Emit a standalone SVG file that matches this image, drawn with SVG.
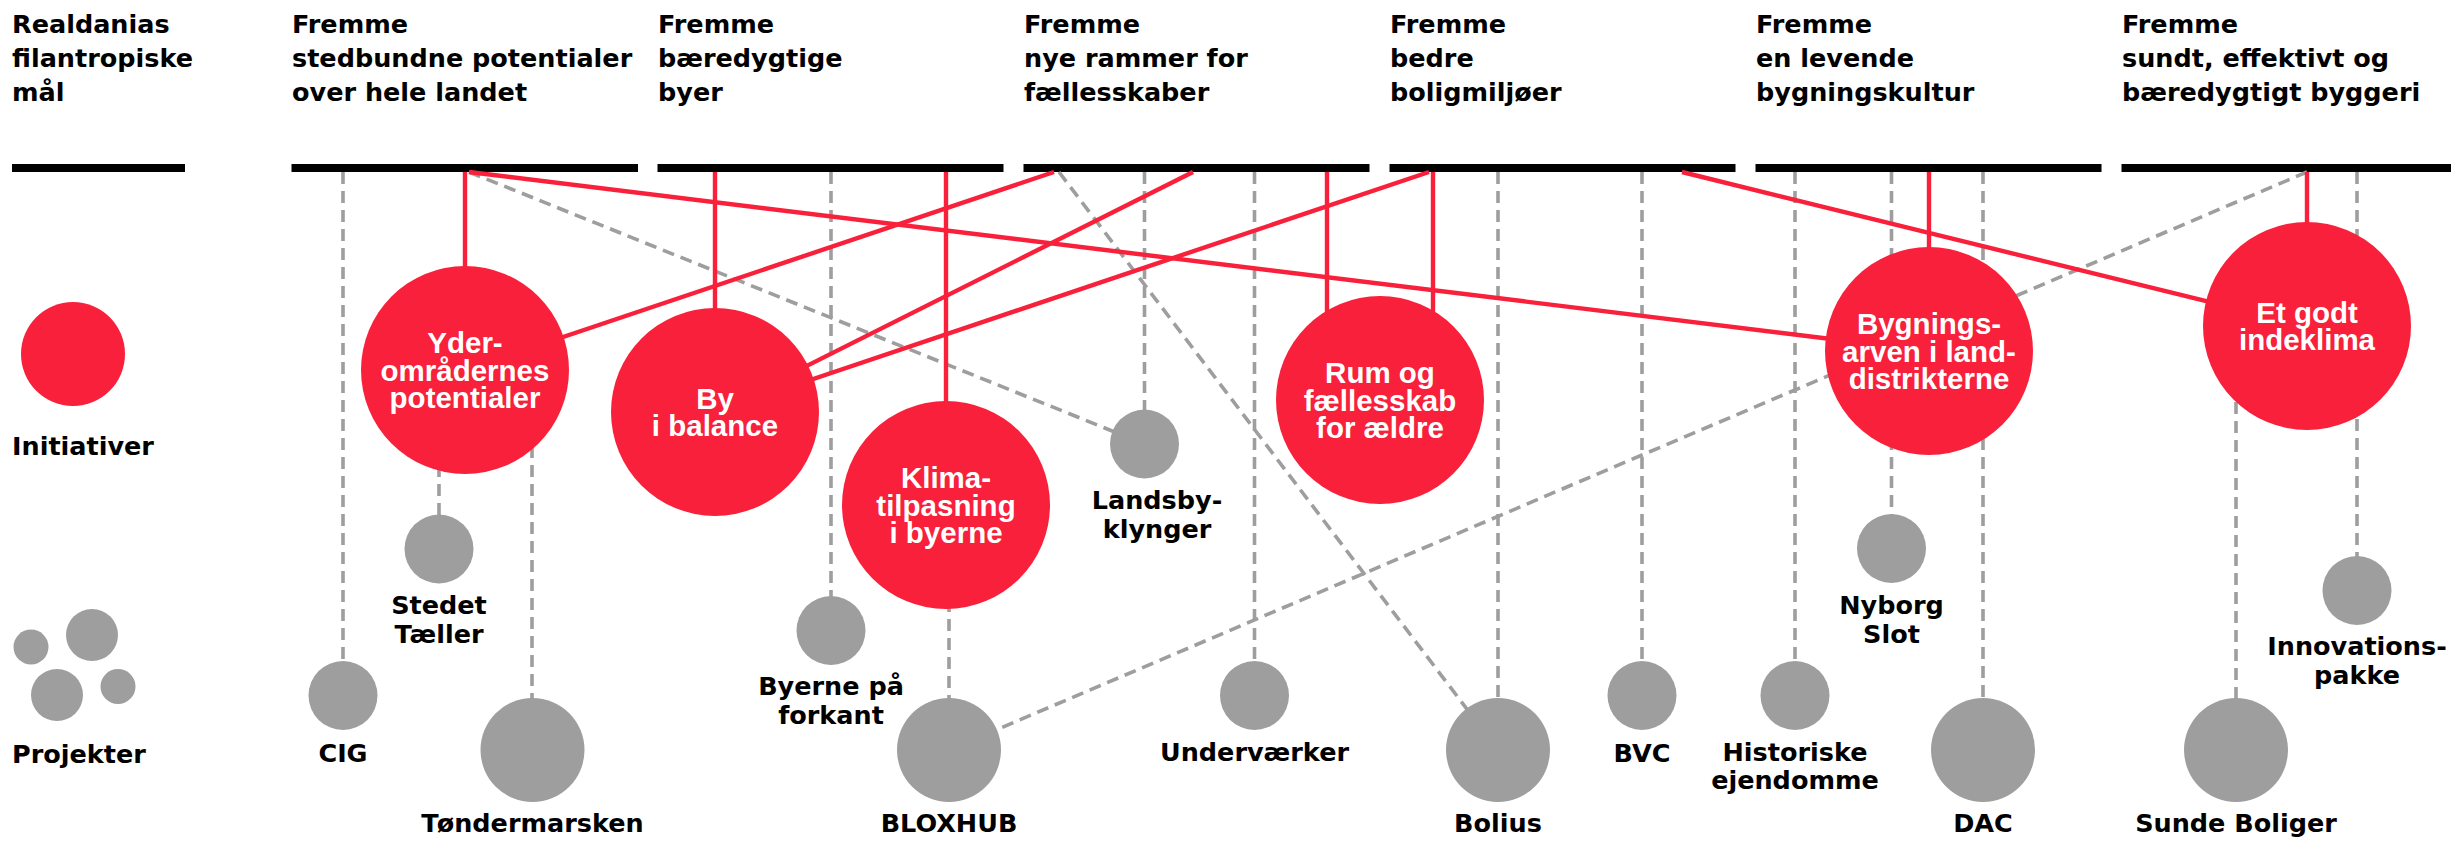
<svg xmlns="http://www.w3.org/2000/svg" width="2451" height="843" viewBox="0 0 2451 843">
<style>
.t{font-family:"DejaVu Sans","Liberation Sans",sans-serif;font-weight:bold;font-size:25.5px;fill:#000}
.m{text-anchor:middle}
.w{font-family:"Liberation Sans","DejaVu Sans",sans-serif;font-weight:bold;font-size:29.5px;fill:#fff;text-anchor:middle}
.bar{fill:#000}
.red{stroke:#F8203A;stroke-width:4.4;fill:none}
.dash{stroke:#9e9e9e;stroke-width:3.6;stroke-dasharray:12 7;fill:none}
.ic{fill:#F8203A}
.pc{fill:#9e9e9e}
</style>
<rect width="2451" height="843" fill="#fff"/>

<g id="legend">
  <g id="legend-goals">
    <rect class="bar" x="12" y="164" width="173" height="8"/>
    <text class="t" x="12"><tspan x="12" y="32.5">Realdanias</tspan><tspan x="12" y="66.5">filantropiske</tspan><tspan x="12" y="100.5">mål</tspan></text>
  </g>
  <g id="legend-initiatives">
    <circle class="ic" cx="73" cy="354" r="52"/>
    <text class="t" x="12" y="455">Initiativer</text>
  </g>
  <g id="legend-projects">
    <circle class="pc" cx="31" cy="647" r="17.5"/>
    <circle class="pc" cx="92" cy="635" r="26"/>
    <circle class="pc" cx="57" cy="695" r="26"/>
    <circle class="pc" cx="118" cy="686.5" r="17.5"/>
    <text class="t" x="12" y="763">Projekter</text>
  </g>
</g>

<g id="goal-1">
  <rect class="bar" x="291.5" y="164" width="346.5" height="8"/>
  <text class="t"><tspan x="292" y="32.5">Fremme</tspan><tspan x="292" y="66.5">stedbundne potentialer</tspan><tspan x="292" y="100.5">over hele landet</tspan></text>
</g>
<g id="goal-2">
  <rect class="bar" x="657.5" y="164" width="346" height="8"/>
  <text class="t"><tspan x="658" y="32.5">Fremme</tspan><tspan x="658" y="66.5">bæredygtige</tspan><tspan x="658" y="100.5">byer</tspan></text>
</g>
<g id="goal-3">
  <rect class="bar" x="1023.5" y="164" width="346" height="8"/>
  <text class="t"><tspan x="1024" y="32.5">Fremme</tspan><tspan x="1024" y="66.5">nye rammer for</tspan><tspan x="1024" y="100.5">fællesskaber</tspan></text>
</g>
<g id="goal-4">
  <rect class="bar" x="1389.5" y="164" width="346" height="8"/>
  <text class="t"><tspan x="1390" y="32.5">Fremme</tspan><tspan x="1390" y="66.5">bedre</tspan><tspan x="1390" y="100.5">boligmiljøer</tspan></text>
</g>
<g id="goal-5">
  <rect class="bar" x="1755.5" y="164" width="346" height="8"/>
  <text class="t"><tspan x="1756" y="32.5">Fremme</tspan><tspan x="1756" y="66.5">en levende</tspan><tspan x="1756" y="100.5">bygningskultur</tspan></text>
</g>
<g id="goal-6">
  <rect class="bar" x="2121.5" y="164" width="329.5" height="8"/>
  <text class="t"><tspan x="2122" y="32.5">Fremme</tspan><tspan x="2122" y="66.5">sundt, effektivt og</tspan><tspan x="2122" y="100.5">bæredygtigt byggeri</tspan></text>
</g>

<g id="connectors">
  <path class="dash" d="M343,172V695"/>
  <path class="dash" d="M439,370V549"/>
  <path class="dash" d="M532,370V750"/>
  <path class="dash" d="M469,172L1144.5,444"/>
  <path class="dash" d="M831,172V630"/>
  <path class="dash" d="M949,505V750"/>
  <path class="dash" d="M2307,172L949,750"/>
  <path class="dash" d="M1144.5,172V444"/>
  <path class="dash" d="M1254.5,172V695"/>
  <path class="dash" d="M1059,172L1498,750"/>
  <path class="dash" d="M1498,172V750"/>
  <path class="dash" d="M1642,172V695"/>
  <path class="dash" d="M1795,172V695"/>
  <path class="dash" d="M1891.5,172V548"/>
  <path class="dash" d="M1983,172V750"/>
  <path class="dash" d="M2236,326V750"/>
  <path class="dash" d="M2357,172V590"/>

  <path class="red" d="M465,172V370"/>
  <path class="red" d="M469,172L1929,351"/>
  <path class="red" d="M1054,172L465,370"/>
  <path class="red" d="M715,172V412"/>
  <path class="red" d="M1193,172L715,412"/>
  <path class="red" d="M1429,172L715,412"/>
  <path class="red" d="M946,172V505"/>
  <path class="red" d="M1327,172V400"/>
  <path class="red" d="M1433,172V400"/>
  <path class="red" d="M1929,172V351"/>
  <path class="red" d="M2307,172V326"/>
  <path class="red" d="M1682,172L2307,326"/>
</g>

<g id="ini-yderomraader">
  <circle class="ic" cx="465" cy="370" r="104"/>
  <text class="w"><tspan x="465" y="352.5">Yder-</tspan><tspan x="465" y="380.5">områdernes</tspan><tspan x="465" y="408">potentialer</tspan></text>
</g>
<g id="ini-by-i-balance">
  <circle class="ic" cx="715" cy="412" r="104"/>
  <text class="w"><tspan x="715" y="409">By</tspan><tspan x="715" y="436">i balance</tspan></text>
</g>
<g id="ini-klimatilpasning">
  <circle class="ic" cx="946" cy="505" r="104"/>
  <text class="w"><tspan x="946" y="487.5">Klima-</tspan><tspan x="946" y="515.5">tilpasning</tspan><tspan x="946" y="543">i byerne</tspan></text>
</g>
<g id="ini-rum-og-faellesskab">
  <circle class="ic" cx="1380" cy="400" r="104"/>
  <text class="w"><tspan x="1380" y="382.5">Rum og</tspan><tspan x="1380" y="410.5">fællesskab</tspan><tspan x="1380" y="438">for ældre</tspan></text>
</g>
<g id="ini-bygningsarven">
  <circle class="ic" cx="1929" cy="351" r="104"/>
  <text class="w"><tspan x="1929" y="333.5">Bygnings-</tspan><tspan x="1929" y="361.5">arven i land-</tspan><tspan x="1929" y="389">distrikterne</tspan></text>
</g>
<g id="ini-indeklima">
  <circle class="ic" cx="2307" cy="326" r="104"/>
  <text class="w"><tspan x="2307" y="323">Et godt</tspan><tspan x="2307" y="350">indeklima</tspan></text>
</g>

<g id="prj-cig">
  <circle class="pc" cx="343" cy="695.5" r="34.5"/>
  <text class="t m" x="343" y="762">CIG</text>
</g>
<g id="prj-stedet-taeller">
  <circle class="pc" cx="439" cy="549" r="34.5"/>
  <text class="t m"><tspan x="439" y="614">Stedet</tspan><tspan x="439" y="643">Tæller</tspan></text>
</g>
<g id="prj-toendermarsken">
  <circle class="pc" cx="532.5" cy="750" r="52"/>
  <text class="t m" x="532.5" y="832">Tøndermarsken</text>
</g>
<g id="prj-byerne-paa-forkant">
  <circle class="pc" cx="831" cy="630.5" r="34.5"/>
  <text class="t m"><tspan x="831" y="695">Byerne på</tspan><tspan x="831" y="724">forkant</tspan></text>
</g>
<g id="prj-bloxhub">
  <circle class="pc" cx="949" cy="750" r="52"/>
  <text class="t m" x="949" y="832">BLOXHUB</text>
</g>
<g id="prj-landsbyklynger">
  <circle class="pc" cx="1144.5" cy="444" r="34.5"/>
  <text class="t m"><tspan x="1157" y="509">Landsby-</tspan><tspan x="1157" y="537.5">klynger</tspan></text>
</g>
<g id="prj-undervaerker">
  <circle class="pc" cx="1254.5" cy="695.5" r="34.5"/>
  <text class="t m" x="1254.5" y="761">Underværker</text>
</g>
<g id="prj-bolius">
  <circle class="pc" cx="1498" cy="750" r="52"/>
  <text class="t m" x="1498" y="832">Bolius</text>
</g>
<g id="prj-bvc">
  <circle class="pc" cx="1642" cy="695.5" r="34.5"/>
  <text class="t m" x="1642" y="762">BVC</text>
</g>
<g id="prj-historiske-ejendomme">
  <circle class="pc" cx="1795" cy="695.5" r="34.5"/>
  <text class="t m"><tspan x="1795" y="761">Historiske</tspan><tspan x="1795" y="789">ejendomme</tspan></text>
</g>
<g id="prj-nyborg-slot">
  <circle class="pc" cx="1891.5" cy="548.5" r="34.5"/>
  <text class="t m"><tspan x="1891.5" y="614">Nyborg</tspan><tspan x="1891.5" y="643">Slot</tspan></text>
</g>
<g id="prj-dac">
  <circle class="pc" cx="1983" cy="750" r="52"/>
  <text class="t m" x="1983" y="832">DAC</text>
</g>
<g id="prj-sunde-boliger">
  <circle class="pc" cx="2236" cy="750" r="52"/>
  <text class="t m" x="2236" y="832">Sunde Boliger</text>
</g>
<g id="prj-innovationspakke">
  <circle class="pc" cx="2357" cy="590.5" r="34.5"/>
  <text class="t m"><tspan x="2357" y="655">Innovations-</tspan><tspan x="2357" y="683.5">pakke</tspan></text>
</g>
</svg>
